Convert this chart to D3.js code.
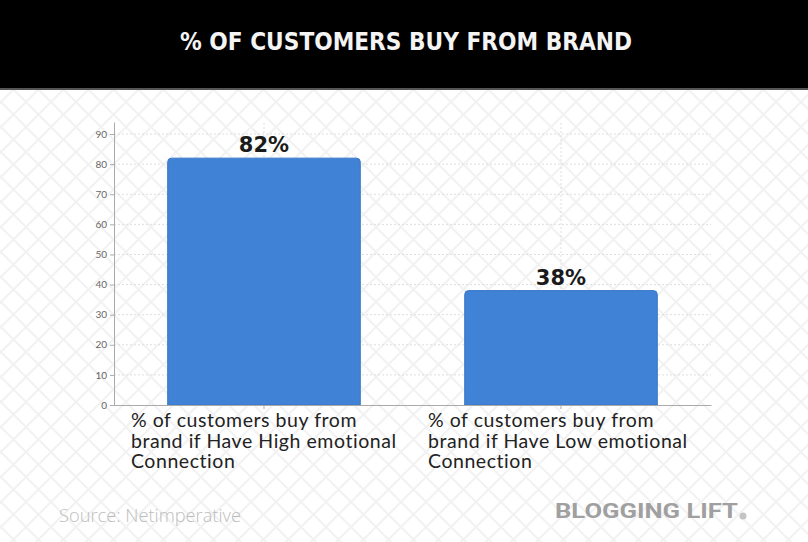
<!DOCTYPE html>
<html>
<head>
<meta charset="utf-8">
<script src="https://cdn.jsdelivr.net/npm/d3@7"></script>
<style>
  html, body { margin: 0; padding: 0; background: #fff; }
  svg { display: block; }
</style>
</head>
<body>
<div id="chart"></div>
<script>
// datos del grafico
const titulo = '% OF CUSTOMERS BUY FROM BRAND';
const categorias = [
  ['% of customers buy from', 'brand if Have High emotional', 'Connection'],
  ['% of customers buy from', 'brand if Have Low emotional', 'Connection']
];
const valores = [82, 38];
const etiquetas = ['82%', '38%'];
const ticksY = [0, 10, 20, 30, 40, 50, 60, 70, 80, 90];
const fuente = 'Source: Netimperative';
const marca = 'BLOGGING LIFT';

const width = 808;
const height = 542;

const svg = d3.select('#chart')
  .append('svg')
  .attr('width', width)
  .attr('height', height);

// fondo con rombos
const defs = svg.append('defs');
const pat = defs.append('pattern')
  .attr('id', 'rombos')
  .attr('patternUnits', 'userSpaceOnUse')
  .attr('width', 25)
  .attr('height', 25)
  .attr('x', 1)
  .attr('y', 2);
pat.append('path')
  .attr('d', 'M0,0 L25,25 M25,0 L0,25')
  .attr('stroke', '#f2f2f2')
  .attr('stroke-width', 2)
  .attr('fill', 'none');

svg.append('rect')
  .attr('width', width)
  .attr('height', height)
  .attr('fill', '#fff');
svg.append('rect')
  .attr('width', width)
  .attr('height', height)
  .attr('fill', 'url(#rombos)');

// cabecera negra
svg.append('rect')
  .attr('x', 0).attr('y', 0)
  .attr('width', width).attr('height', 88)
  .attr('fill', '#000');
svg.append('rect')
  .attr('x', 0).attr('y', 88)
  .attr('width', width).attr('height', 2)
  .attr('fill', '#555');

svg.append('text')
  .attr('x', 406)
  .attr('y', 50)
  .attr('text-anchor', 'middle')
  .attr('font-family', '"DejaVu Sans Condensed", "Liberation Sans Narrow", sans-serif')
  .attr('font-weight', 'bold')
  .attr('font-size', 25)
  .attr('fill', '#f4f4f4')
  .attr('textLength', 452)
  .attr('lengthAdjust', 'spacingAndGlyphs')
  .text(titulo);

// escalas
const y = d3.scaleLinear()
  .domain([0, 94])
  .range([405, 122]);

const x = d3.scaleBand()
  .domain(d3.range(valores.length))
  .range([114, 711])
  .padding(0.01);

const barW = x.bandwidth() * 0.655;

// rejilla
const grid = svg.append('g').attr('class', 'grid');
grid.selectAll('.hline')
  .data(ticksY.slice(1))
  .enter()
  .append('line')
  .attr('x1', 114).attr('x2', 711)
  .attr('y1', d => y(d)).attr('y2', d => y(d))
  .attr('stroke', '#dedede')
  .attr('stroke-dasharray', '2,2');
grid.selectAll('.vline')
  .data(d3.range(valores.length))
  .enter()
  .append('line')
  .attr('x1', d => x(d) + x.bandwidth() / 2)
  .attr('x2', d => x(d) + x.bandwidth() / 2)
  .attr('y1', y(0)).attr('y2', y(94))
  .attr('stroke', '#dedede')
  .attr('stroke-dasharray', '2,2');

// barras con esquinas redondeadas arriba
const r = 4;
svg.selectAll('.bar')
  .data(valores)
  .enter()
  .append('path')
  .attr('class', 'bar')
  .attr('d', (d, i) => {
    const x0 = x(i) + (x.bandwidth() - barW) / 2;
    const x1 = x0 + barW;
    const y0 = y(d);
    const yb = y(0);
    return `M${x0},${yb} L${x0},${y0 + r} Q${x0},${y0} ${x0 + r},${y0} L${x1 - r},${y0} Q${x1},${y0} ${x1},${y0 + r} L${x1},${yb} Z`;
  })
  .attr('fill', '#3f82d6')
  .attr('stroke', '#3a77c6')
  .attr('stroke-width', 1);

// eje Y
const axisY = d3.axisLeft(y)
  .tickValues(ticksY)
  .tickSize(4)
  .tickSizeOuter(0)
  .tickPadding(3);
const gY = svg.append('g')
  .attr('transform', 'translate(114,0)')
  .call(axisY);
gY.select('.domain').attr('stroke', '#aaa');
gY.selectAll('.tick line').attr('stroke', '#aaa');
gY.selectAll('.tick text')
  .attr('fill', '#666')
  .attr('font-family', 'Lato, sans-serif')
  .attr('font-size', 10);

// eje X
const axisX = d3.axisBottom(x)
  .tickSize(4)
  .tickSizeOuter(0)
  .tickFormat('');
const gX = svg.append('g')
  .attr('transform', `translate(0,${y(0)})`)
  .call(axisX);
gX.select('.domain').attr('stroke', '#aaa');
gX.selectAll('.tick line').attr('stroke', '#aaa');

// etiquetas de categoria, una linea por texto
categorias.forEach((lineas, i) => {
  const x0 = x(i) + x.bandwidth() / 2 - 133;
  lineas.forEach((l, j) => {
    svg.append('text')
      .attr('x', x0)
      .attr('y', 427 + j * 20.5)
      .attr('font-family', 'Lato, sans-serif')
      .attr('font-size', 19.5)
      .attr('letter-spacing', 0.55)
      .attr('fill', '#222')
      .text(l);
  });
});

// etiquetas de valor
svg.selectAll('.valor')
  .data(valores)
  .enter()
  .append('text')
  .attr('class', 'valor')
  .attr('x', (d, i) => x(i) + x.bandwidth() / 2)
  .attr('y', d => y(d) - 6)
  .attr('text-anchor', 'middle')
  .attr('font-family', '"DejaVu Sans", sans-serif')
  .attr('font-weight', 'bold')
  .attr('font-size', 21)
  .attr('fill', '#1a1a1a')
  .text((d, i) => etiquetas[i]);

// pie
svg.append('text')
  .attr('x', 59)
  .attr('y', 522)
  .attr('font-family', '"Open Sans", sans-serif')
  .attr('font-weight', 300)
  .attr('font-size', 18)
  .attr('fill', '#bdbdbd')
  .attr('textLength', 182)
  .attr('lengthAdjust', 'spacingAndGlyphs')
  .text(fuente);

svg.append('text')
  .attr('x', 555)
  .attr('y', 518)
  .attr('font-family', 'Roboto, sans-serif')
  .attr('font-weight', 'bold')
  .attr('font-size', 20)
  .attr('fill', '#a0a0a0')
  .attr('textLength', 183)
  .attr('lengthAdjust', 'spacingAndGlyphs')
  .text(marca);

svg.append('circle')
  .attr('cx', 743)
  .attr('cy', 516)
  .attr('r', 3.5)
  .attr('fill', '#c4c4c4');
</script>
</body>
</html>
